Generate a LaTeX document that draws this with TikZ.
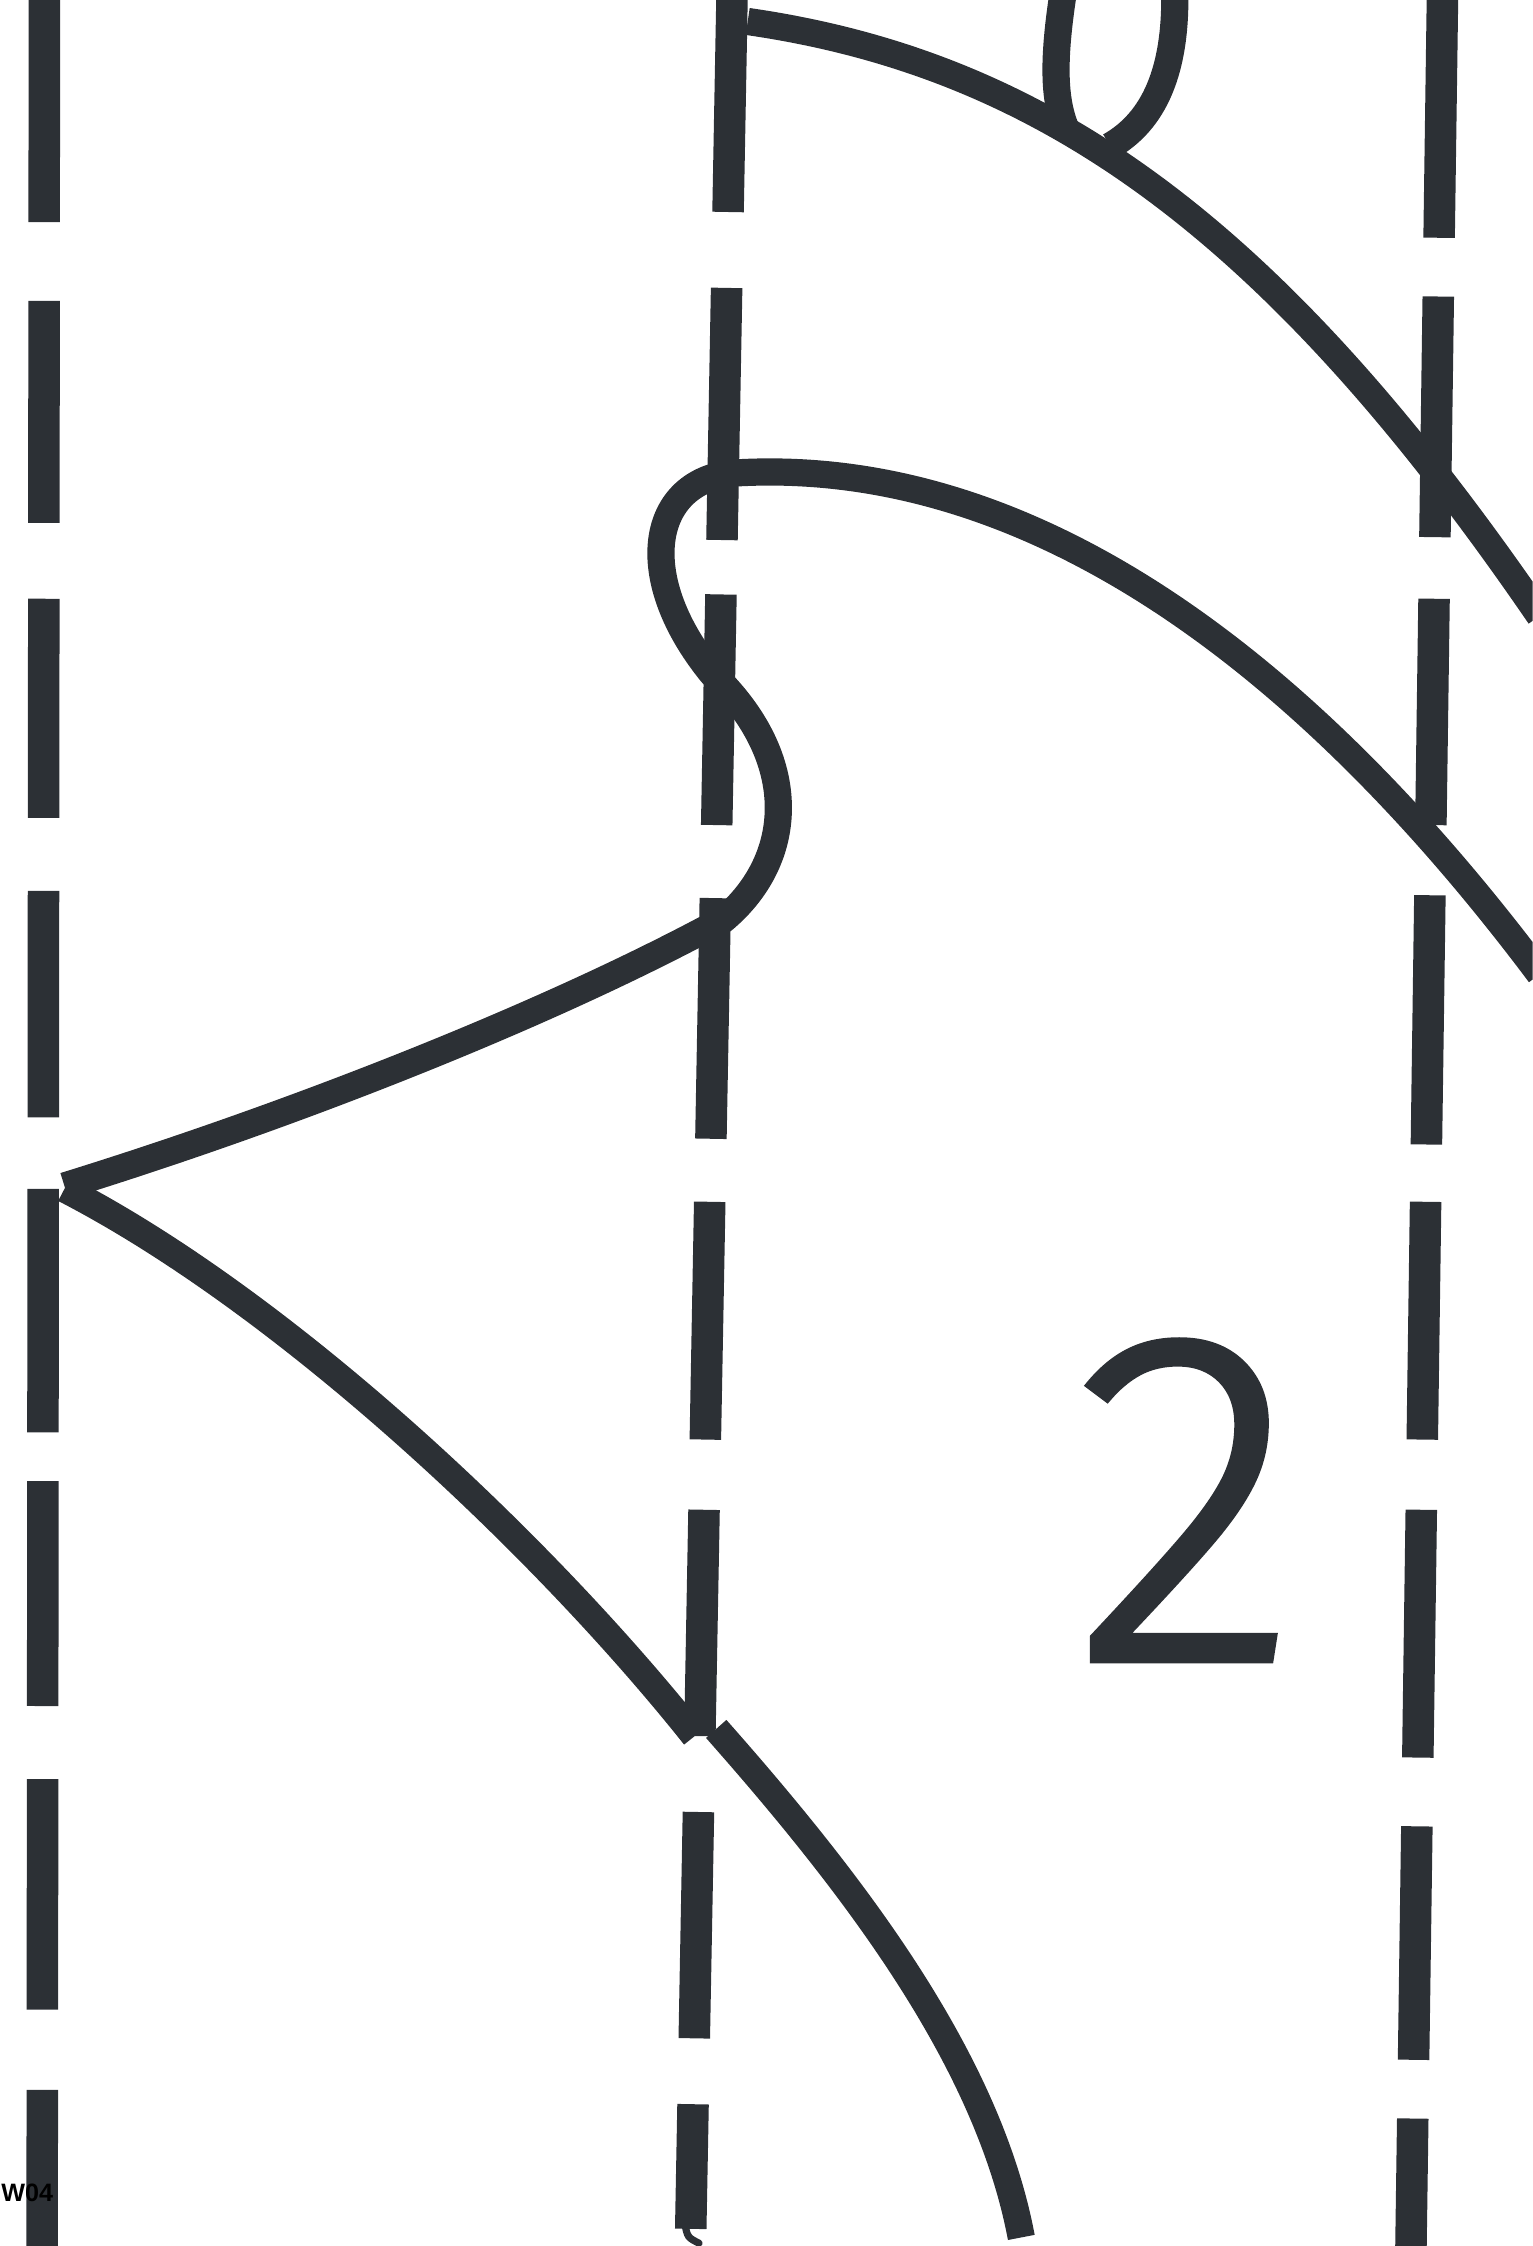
\documentclass[tikz,border=0pt]{standalone}
\usepackage{fontspec}
\setsansfont{Liberation Sans}
\IfFontExistsTF{Fira Sans Light}{\newfontfamily\handfont[FakeBold=1.3]{Fira Sans Light}}{\newfontfamily\handfont{Fira Sans}}
\definecolor{ink}{RGB}{44,48,53}

\begin{document}
\begin{tikzpicture}[x=0.02cm, y=-0.02cm,
  every node/.style={inner sep=0pt, outer sep=0pt},
  dashbar/.style={draw=ink, line width=0.44cm, line cap=butt},
  rope/.style={draw=ink, line width=0.38cm, line cap=butt, line join=round}]
\useasboundingbox (0,0) rectangle (1070,1568);
\clip (0,0) rectangle (1070,1568);
% ---- dashed guide lines (each drifts a little to the left going down)
\newcommand{\guide}[3]{% #1 = x at top, #2 = drift per unit of y, #3 = list of y1/y2
  \foreach \ya/\yb in {#3}
    \draw[dashbar] ({#1-#2*\ya},\ya) -- ({#1-#2*\yb},\yb);
}
\guide{31}{0.001}{-5/155, 210/365, 418/571, 622/780, 830/1000, 1034/1191, 1242/1403, 1459/1575}
\guide{511}{0.0185}{-5/148, 201/377, 415/576, 627/795, 839/1005, 1054/1212, 1265/1423, 1469/1556}
\guide{1007}{0.014}{-5/166, 207/375, 418/576, 625/799, 839/1005, 1054/1227, 1275/1438, 1479/1575}
% little flick under the last middle dash
\draw[ink, line width=0.1cm, line cap=round] (478,1552) .. controls (480,1562) .. (488,1566);
% ---- top strand with the small hanging loop
\draw[rope] (522,15) .. controls (730,45) and (890,160) .. (1075,430);
\draw[rope] (743,-10) .. controls (735,40) and (735,70) .. (745,92);
\draw[rope] (820,-10) .. controls (822,50) and (805,85) .. (775,102);
% ---- second strand: loop round the middle line, then out to the left
\draw[rope] (1075,680) .. controls (910,460) and (720,320) .. (517,330)
  .. controls (455,332) and (440,400) .. (497,470)
  .. controls (560,530) and (555,600) .. (505,642)
  .. controls (380,710) and (200,780) .. (45,828);
% ---- lower strand from the point back to the middle line
\draw[rope] (45,830) .. controls (200,910) and (380,1080) .. (485,1212);
\draw[rope] (500,1207) .. controls (600,1320) and (690,1440) .. (713,1562);
% ---- labels
\node[font=\handfont\fontsize{188}{188}\selectfont, text=ink, anchor=base] (digit) at (828,1159) {2};
\node[font=\sffamily\bfseries\fontsize{10}{12}\selectfont, anchor=base west] (sheetid) at (1,1537) {W04};
\end{tikzpicture}
\end{document}
